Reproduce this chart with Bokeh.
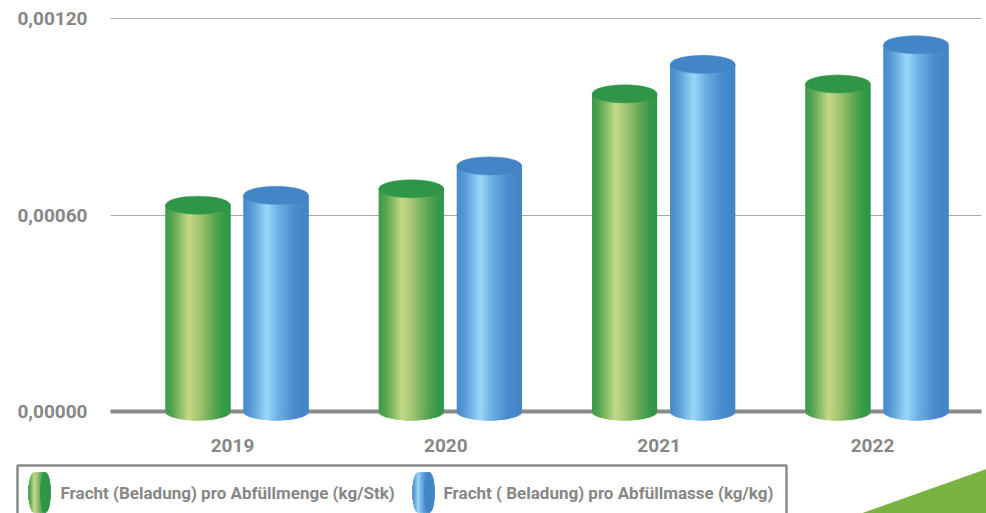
import numpy as np
from bokeh.plotting import figure
from bokeh.models import Range1d, FixedTicker, Span
from bokeh.layouts import column
from bokeh.core.properties import value
from bokeh.embed import file_html
from bokeh.resources import INLINE

# ---- chart data -------------------------------------------------------------
years = ["2019", "2020", "2021", "2022"]
fracht_stk = [0.00063, 0.00068, 0.00097, 0.00100]   # kg/Stk
fracht_kg = [0.00066, 0.00075, 0.00106, 0.00112]    # kg/kg
series_labels = [
    "Fracht (Beladung) pro Abfüllmenge (kg/Stk)",
    "Fracht ( Beladung) pro Abfüllmasse (kg/kg)",
]
y_ticks = [0.0, 0.0006, 0.0012]
y_tick_labels = ["0,00000", "0,00060", "0,00120"]

# ---- styling ----------------------------------------------------------------
FONT_NAME = "Roboto"
TEXT_GREY = "#878787"
GREEN_STOPS = [(0.0, "#379a4b"), (0.12, "#5ba654"), (0.36, "#c4d985"),
               (0.52, "#a3c574"), (0.75, "#5ea653"), (0.9, "#34984a"), (1.0, "#2f9648")]
BLUE_STOPS = [(0.0, "#4787c9"), (0.14, "#5d9fd8"), (0.36, "#9ad7f8"),
              (0.55, "#6aaee2"), (0.78, "#4a8dcd"), (1.0, "#4285c7")]
GREEN_CAP = "#2f9647"
BLUE_CAP = "#4286c8"

BAR_W = 0.305            # bar width in category units
OFFSETS = [-0.162, 0.204]
CAP_H = 18               # ellipse height of the cylinder ends, screen px
N_STRIPS = 48


def hex2rgb(h):
    return tuple(int(h[i:i + 2], 16) for i in (1, 3, 5))


def ramp(stops, t):
    for (t0, c0), (t1, c1) in zip(stops, stops[1:]):
        if t <= t1:
            f = (t - t0) / (t1 - t0) if t1 > t0 else 0.0
            a, b = hex2rgb(c0), hex2rgb(c1)
            return "#%02x%02x%02x" % tuple(round(a[i] + (b[i] - a[i]) * f) for i in range(3))
    return stops[-1][1]


# ---- main chart -------------------------------------------------------------
k = 0.0006 / 196.5      # data units per pixel on the value axis
p = figure(
    width=986, height=462,
    x_range=Range1d(-0.572, 3.511),
    y_range=Range1d(-14 * k, 406 * k),
    output_backend="svg", toolbar_location=None,
    min_border_left=110, min_border_right=5, min_border_top=5, min_border_bottom=37,
)
p.frame_align = False
p.outline_line_color = None
p.background_fill_color = "white"
p.border_fill_color = "white"

p.xgrid.visible = False
p.ygrid.ticker = FixedTicker(ticks=[t for t in y_ticks if t > 0])
p.ygrid.grid_line_color = "#a8a8a8"
p.ygrid.grid_line_width = 1

baseline = Span(location=0, dimension="width", line_color="#8a8a8a",
                line_width=4, line_cap="round", level="underlay")
p.add_layout(baseline)

yax = p.yaxis[0]
yax.ticker = FixedTicker(ticks=y_ticks)
yax.major_label_overrides = {t: s for t, s in zip(y_ticks, y_tick_labels)}
yax.axis_line_color = None
yax.major_tick_line_color = None
yax.minor_tick_line_color = None
yax.major_label_standoff = 17
yax.major_label_text_font = FONT_NAME
yax.major_label_text_font_style = "bold"
yax.major_label_text_font_size = "19px"
yax.major_label_text_color = TEXT_GREY

xax = p.xaxis[0]
xax.ticker = FixedTicker(ticks=list(range(len(years))))
xax.major_label_overrides = {i: y for i, y in enumerate(years)}
xax.axis_line_color = None
xax.major_tick_line_color = None
xax.minor_tick_line_color = None
xax.major_label_standoff = 7
xax.major_label_text_font = FONT_NAME
xax.major_label_text_font_style = "bold"
xax.major_label_text_font_size = "19px"
xax.major_label_text_color = TEXT_GREY


def draw_cylinders(fig, values, offset, stops, cap_color):
    xs = [i + offset for i in range(len(values))]
    base_col = ramp(stops, 0.6)
    # opaque backing so the thin shading strips never let the grid show through
    fig.vbar(x=xs, width=BAR_W, bottom=0, top=values, fill_color=base_col, line_color=None)
    fig.ellipse(x=xs, y=0, width=BAR_W, height=CAP_H, height_units="screen",
                fill_color=base_col, line_color=None)

    ql, qr, qt, qc = [], [], [], []
    rx, rw, rh, rc = [], [], [], []
    for xc, v in zip(xs, values):
        edges = np.linspace(xc - BAR_W / 2, xc + BAR_W / 2, N_STRIPS + 1)
        dx = edges[1] - edges[0]
        for j in range(N_STRIPS):
            t = (j + 0.5) / N_STRIPS
            u = 2 * t - 1
            col = ramp(stops, t)
            right = edges[j + 1] + (dx * 0.8 if j < N_STRIPS - 1 else 0.0)
            ql.append(edges[j]); qr.append(right); qt.append(v); qc.append(col)
            rx.append(edges[j] + dx / 2); rw.append(dx * 1.6 if 0 < j < N_STRIPS - 1 else dx)
            rh.append(CAP_H * np.sqrt(max(0.0, 1 - u * u))); rc.append(col)
    # curved lower end of each cylinder
    fig.rect(x=rx, y=0, width=rw, height=rh, height_units="screen",
             fill_color=rc, line_color=None)
    # shaded body
    fig.quad(left=ql, right=qr, bottom=0, top=qt, fill_color=qc, line_color=None)
    # flat top
    fig.ellipse(x=xs, y=values, width=BAR_W, height=CAP_H, height_units="screen",
                fill_color=cap_color, line_color=cap_color, line_width=0.5)


draw_cylinders(p, fracht_stk, OFFSETS[0], GREEN_STOPS, GREEN_CAP)
draw_cylinders(p, fracht_kg, OFFSETS[1], BLUE_STOPS, BLUE_CAP)

# ---- legend strip -----------------------------------------------------------
lg = figure(
    width=986, height=51,
    x_range=Range1d(0, 986), y_range=Range1d(0, 51),
    output_backend="svg", toolbar_location=None,
    x_axis_location=None, y_axis_location=None, min_border=0,
)
lg.frame_align = False
lg.outline_line_color = None
lg.grid.visible = False
lg.background_fill_color = "white"
lg.border_fill_color = "white"

# decorative corner wedge
lg.patch([862, 986, 986], [0, 44, 0], fill_color="#7ab342", line_color="#7ab342")

lg.quad(left=17, right=786, top=48, bottom=-20, fill_color=None,
        line_color="#8a8a8a", line_width=2.5)


def legend_icon(fig, x0, stops, cap_color):
    w, h, yc = 17, 40, 21
    edges = np.linspace(x0, x0 + w, 24)
    cx, cw, ch, cc = [], [], [], []
    for j in range(len(edges) - 1):
        xm = (edges[j] + edges[j + 1]) / 2
        t = (xm - x0) / w
        d = (xm - (x0 + 6)) / 6
        hh = h * np.sqrt(max(0.0, 1 - d * d)) if xm < x0 + 6 else h
        cx.append(xm); cw.append(edges[1] - edges[0]); ch.append(hh); cc.append(ramp(stops, t))
    fig.rect(x=cx, y=yc, width=cw, height=ch, fill_color=cc, line_color=cc, line_width=0.6)
    fig.ellipse(x=[x0 + w], y=[yc], width=10, height=h,
                fill_color=cap_color, line_color=cap_color)


legend_icon(lg, 28, GREEN_STOPS, GREEN_CAP)
legend_icon(lg, 412, BLUE_STOPS, BLUE_CAP)

lg.text(x=[60, 443], y=[21, 21], text=series_labels, text_font=value(FONT_NAME),
        text_font_style="bold", text_font_size="17px", text_color=TEXT_GREY,
        text_baseline="middle", text_align="left")

layout = column(p, lg, spacing=0)
open("out.html", "w").write(file_html(layout, INLINE))
